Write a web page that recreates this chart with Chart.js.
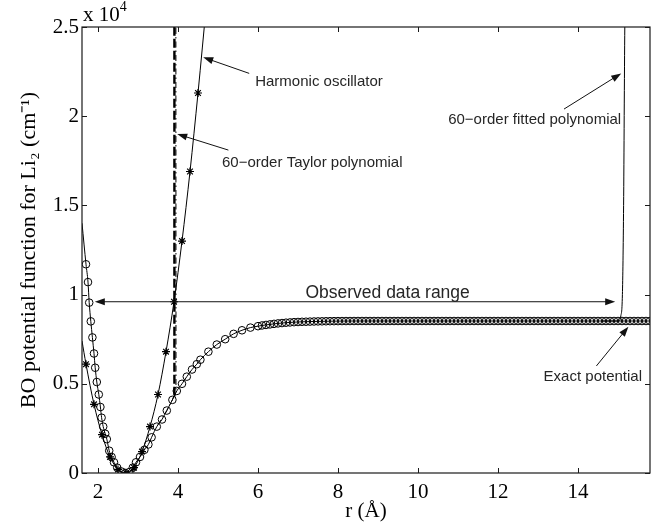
<!DOCTYPE html>
<html>
<head>
<meta charset="utf-8">
<script src="https://cdn.jsdelivr.net/npm/chart.js@4/dist/chart.umd.min.js"></script>
<style>
  body { margin: 0; background: #fff; }
  #wrap { width: 664px; height: 524px; }
</style>
</head>
<body>
<div id="wrap"><canvas id="chart" width="664" height="524"></canvas></div>
<script>
// Valores (r em Å, V em cm^-1)
const exactR = [1.60, 1.70, 1.75, 1.78, 1.82, 1.86, 1.90, 1.93, 1.97, 2.02, 2.06, 2.09, 2.13, 2.18, 2.22, 2.28, 2.34, 2.40, 2.48, 2.59,
    2.68, 2.78, 2.87, 2.95, 3.05, 3.16, 3.26, 3.34, 3.47, 3.60, 3.72, 3.86, 3.97, 4.10, 4.22, 4.35, 4.47, 4.56, 4.76, 4.97,
    5.18, 5.39, 5.60, 5.81,
    6.0, 6.1, 6.2, 6.3, 6.4, 6.5, 6.6, 6.7, 6.8, 6.9,
    7.0, 7.1, 7.2, 7.3, 7.4, 7.5, 7.6, 7.7, 7.8, 7.9,
    8.0, 8.1, 8.2, 8.3, 8.4, 8.5, 8.6, 8.7, 8.8, 8.9,
    9.0, 9.1, 9.2, 9.3, 9.4, 9.5, 9.6, 9.7, 9.8, 9.9,
    10.0, 10.1, 10.2, 10.3, 10.4, 10.5, 10.6, 10.7, 10.8, 10.9,
    11.0, 11.1, 11.2, 11.3, 11.4, 11.5, 11.6, 11.7, 11.8, 11.9,
    12.0, 12.1, 12.2, 12.3, 12.4, 12.5, 12.6, 12.7, 12.8, 12.9,
    13.0, 13.1, 13.2, 13.3, 13.4, 13.5, 13.6, 13.7, 13.8, 13.9,
    14.0, 14.1, 14.2, 14.3, 14.4, 14.5, 14.6, 14.7, 14.8, 14.9,
    15.0, 15.1, 15.2, 15.3, 15.4, 15.5, 15.6, 15.7, 15.8];
const exactV = [14000, 11700, 10700, 9550, 8500, 7600, 6700, 5900, 5100, 4400, 3700, 3100, 2600, 2200, 1900, 1250, 900, 600, 300, 80,
    0, 50, 300, 600, 900, 1300, 1600, 2000, 2600, 3000, 3500, 4100, 4600, 5000, 5400, 5800, 6100, 6350, 6800, 7200,
    7500, 7800, 8000, 8150,
    8230, 8270, 8300, 8330, 8360, 8385, 8405, 8425, 8440, 8455,
    8465, 8475, 8480, 8487, 8493, 8498, 8502, 8506, 8509, 8512,
    8514, 8516, 8517, 8518, 8519, 8520, 8520, 8520, 8520, 8520,
    8520, 8520, 8520, 8520, 8520, 8520, 8520, 8520, 8520, 8520,
    8520, 8520, 8520, 8520, 8520, 8520, 8520, 8520, 8520, 8520,
    8520, 8520, 8520, 8520, 8520, 8520, 8520, 8520, 8520, 8520,
    8520, 8520, 8520, 8520, 8520, 8520, 8520, 8520, 8520, 8520,
    8520, 8520, 8520, 8520, 8520, 8520, 8520, 8520, 8520, 8520,
    8520, 8520, 8520, 8520, 8520, 8520, 8520, 8520, 8520, 8520,
    8520, 8520, 8520, 8520, 8520, 8520, 8520, 8520, 8520];

const harmR = [1.60, 1.70, 1.90, 2.10, 2.30, 2.50, 2.70, 2.90, 3.10, 3.30, 3.50, 3.70, 3.90, 4.10, 4.30, 4.50, 4.72];
const harmV = [7400, 6100, 3850, 2150, 900, 200, 0, 300, 1200, 2600, 4400, 6800, 9600, 13000, 16900, 21300, 26500];

const taylorR = [3.50, 3.72, 3.86, 3.90, 3.91, 3.945, 3.95];
const taylorV = [2700, 3500, 4100, 4350, 40000, 40000, 4500];

const fitR = [14.6, 15.02, 15.07, 15.11, 15.14, 15.17, 15.18];
const fitV = [8520, 8520, 8800, 10000, 15000, 25000, 26500];

const xTicks = [2, 4, 6, 8, 10, 12, 14];
const yTicks = [0, 5000, 10000, 15000, 20000, 25000];

const pts = (xs, ys) => xs.map((x, i) => ({ x: x, y: ys[i] }));

// Caixa do gráfico com marcas para dentro (estilo Matlab)
const frame = {
    id: 'frame',
    afterDatasetsDraw(chart) {
        const { ctx, chartArea: a, scales: { x, y } } = chart;
        ctx.save();
        ctx.strokeStyle = '#1a1a1a';
        ctx.lineWidth = 1.2;
        ctx.strokeRect(a.left, a.top, a.right - a.left, a.bottom - a.top);
        ctx.lineWidth = 1;
        ctx.beginPath();
        xTicks.forEach(v => {
            const px = Math.round(x.getPixelForValue(v)) + 0.5;
            ctx.moveTo(px, a.bottom); ctx.lineTo(px, a.bottom - 5);
            ctx.moveTo(px, a.top); ctx.lineTo(px, a.top + 5);
        });
        yTicks.forEach(v => {
            const py = Math.round(y.getPixelForValue(v)) + 0.5;
            ctx.moveTo(a.left, py); ctx.lineTo(a.left + 5, py);
            ctx.moveTo(a.right, py); ctx.lineTo(a.right - 5, py);
        });
        ctx.stroke();

        // multiplicador do eixo y
        ctx.fillStyle = '#000';
        ctx.textBaseline = 'alphabetic';
        ctx.font = '21px "Liberation Serif"';
        ctx.fillText('x 10', a.left + 1, 21);
        const w = ctx.measureText('x 10').width;
        ctx.font = '14px "Liberation Serif"';
        ctx.fillText('4', a.left + 1 + w, 11);
        ctx.restore();
    }
};

function arrow(ctx, x1, y1, x2, y2) {
    const ang = Math.atan2(y2 - y1, x2 - x1);
    ctx.beginPath();
    ctx.moveTo(x1, y1);
    ctx.lineTo(x2 - Math.cos(ang) * 6, y2 - Math.sin(ang) * 6);
    ctx.stroke();
    ctx.beginPath();
    ctx.moveTo(x2, y2);
    ctx.lineTo(x2 - 10 * Math.cos(ang) + 3.5 * Math.sin(ang), y2 - 10 * Math.sin(ang) - 3.5 * Math.cos(ang));
    ctx.lineTo(x2 - 10 * Math.cos(ang) - 3.5 * Math.sin(ang), y2 - 10 * Math.sin(ang) + 3.5 * Math.cos(ang));
    ctx.closePath();
    ctx.fill();
}

// Textos e setas das anotações
const notes = {
    id: 'notes',
    afterDraw(chart) {
        const { ctx, scales: { x, y } } = chart;
        const X = v => x.getPixelForValue(v);
        const Y = v => y.getPixelForValue(v);
        ctx.save();
        ctx.strokeStyle = '#111';
        ctx.fillStyle = '#111';
        ctx.lineWidth = 1;

        arrow(ctx, X(5.78), Y(22400), X(4.63), Y(23300));
        arrow(ctx, X(5.26), Y(18100), X(3.98), Y(19000));
        arrow(ctx, X(13.65), Y(20400), X(15.08), Y(22400));
        arrow(ctx, X(14.46), Y(6000), X(15.26), Y(8200));
        arrow(ctx, X(8), Y(9600), X(14.93), Y(9600));
        arrow(ctx, X(8), Y(9600), X(1.92), Y(9600));

        ctx.fillStyle = '#262626';
        ctx.textBaseline = 'middle';
        ctx.font = '15px "Liberation Sans"';
        ctx.textAlign = 'left';
        ctx.fillText('Harmonic oscillator', X(5.93), Y(21900));
        ctx.fillText('60\u2212order Taylor polynomial', X(5.1), Y(17400));
        ctx.textAlign = 'right';
        ctx.fillText('60\u2212order fitted polynomial', X(15.08), Y(19800));
        ctx.fillText('Exact potential', X(15.6), Y(5400));
        ctx.textAlign = 'center';
        ctx.font = '17.5px "Liberation Sans"';
        ctx.fillText('Observed data range', X(9.24), Y(10100));
        ctx.restore();
    }
};

const ctx = document.getElementById('chart').getContext('2d');
new Chart(ctx, {
    type: 'line',
    data: {
        datasets: [{
            label: 'Exact potential',
            data: pts(exactR, exactV),
            borderColor: '#000',
            borderWidth: 1,
            backgroundColor: 'rgba(0,0,0,0)',
            pointStyle: 'circle',
            pointRadius: exactR.map((r, i) => i === 0 ? 0 : 3.8),
            pointBorderColor: '#000',
            pointBorderWidth: 1,
            pointBackgroundColor: 'rgba(0,0,0,0)',
            cubicInterpolationMode: 'monotone'
        }, {
            label: 'Harmonic oscillator',
            data: pts(harmR, harmV),
            borderColor: '#000',
            borderWidth: 1,
            pointStyle: 'star',
            pointRadius: harmR.map((r, i) => (i === 0 || i === harmR.length - 1) ? 0 : 4),
            pointBorderColor: '#000',
            pointBorderWidth: 1.2,
            cubicInterpolationMode: 'monotone'
        }, {
            label: '60-order Taylor polynomial',
            data: pts(taylorR, taylorV),
            borderColor: '#000',
            borderWidth: 1,
            pointRadius: 0,
            tension: 0,
            segment: {
                borderWidth: c => c.p0DataIndex === 3 ? 2.4 : 1,
                borderDash: c => c.p0DataIndex === 3 ? [9, 3] : [6, 3, 1.5, 3]
            }
        }, {
            label: '60-order fitted polynomial',
            data: pts(fitR, fitV),
            borderColor: '#000',
            borderWidth: 1,
            pointRadius: 0,
            cubicInterpolationMode: 'monotone'
        }]
    },
    options: {
        responsive: false,
        animation: false,
        layout: { padding: { top: 27, right: 14, left: 0, bottom: 0 } },
        plugins: {
            legend: { display: false },
            tooltip: { enabled: false }
        },
        scales: {
            x: {
                type: 'linear',
                min: 1.6,
                max: 15.8,
                afterFit: s => { s.height = 51; },
                afterBuildTicks: s => { s.ticks = xTicks.map(v => ({ value: v })); },
                grid: { display: false, drawTicks: false },
                border: { display: false },
                ticks: {
                    color: '#000',
                    padding: 7,
                    maxRotation: 0,
                    font: { family: 'Liberation Serif', size: 21 }
                },
                title: {
                    display: true,
                    text: 'r (Å)',
                    color: '#000',
                    padding: { top: 0, bottom: 0 },
                    font: { family: 'Liberation Serif', size: 21 }
                }
            },
            y: {
                min: 0,
                max: 25000,
                afterFit: s => { s.width = 82; },
                afterBuildTicks: s => { s.ticks = yTicks.map(v => ({ value: v })); },
                grid: { display: false, drawTicks: false },
                border: { display: false },
                ticks: {
                    color: '#000',
                    padding: 3,
                    font: { family: 'Liberation Serif', size: 21 },
                    callback: v => String(v / 10000)
                },
                title: {
                    display: true,
                    text: 'BO potential function for Li\u2082 (cm\u207B\u00B9)',
                    color: '#000',
                    padding: { top: 16, bottom: 0 },
                    font: { family: 'Liberation Serif', size: 22 }
                }
            }
        }
    },
    plugins: [frame, notes]
});
</script>
</body>
</html>
